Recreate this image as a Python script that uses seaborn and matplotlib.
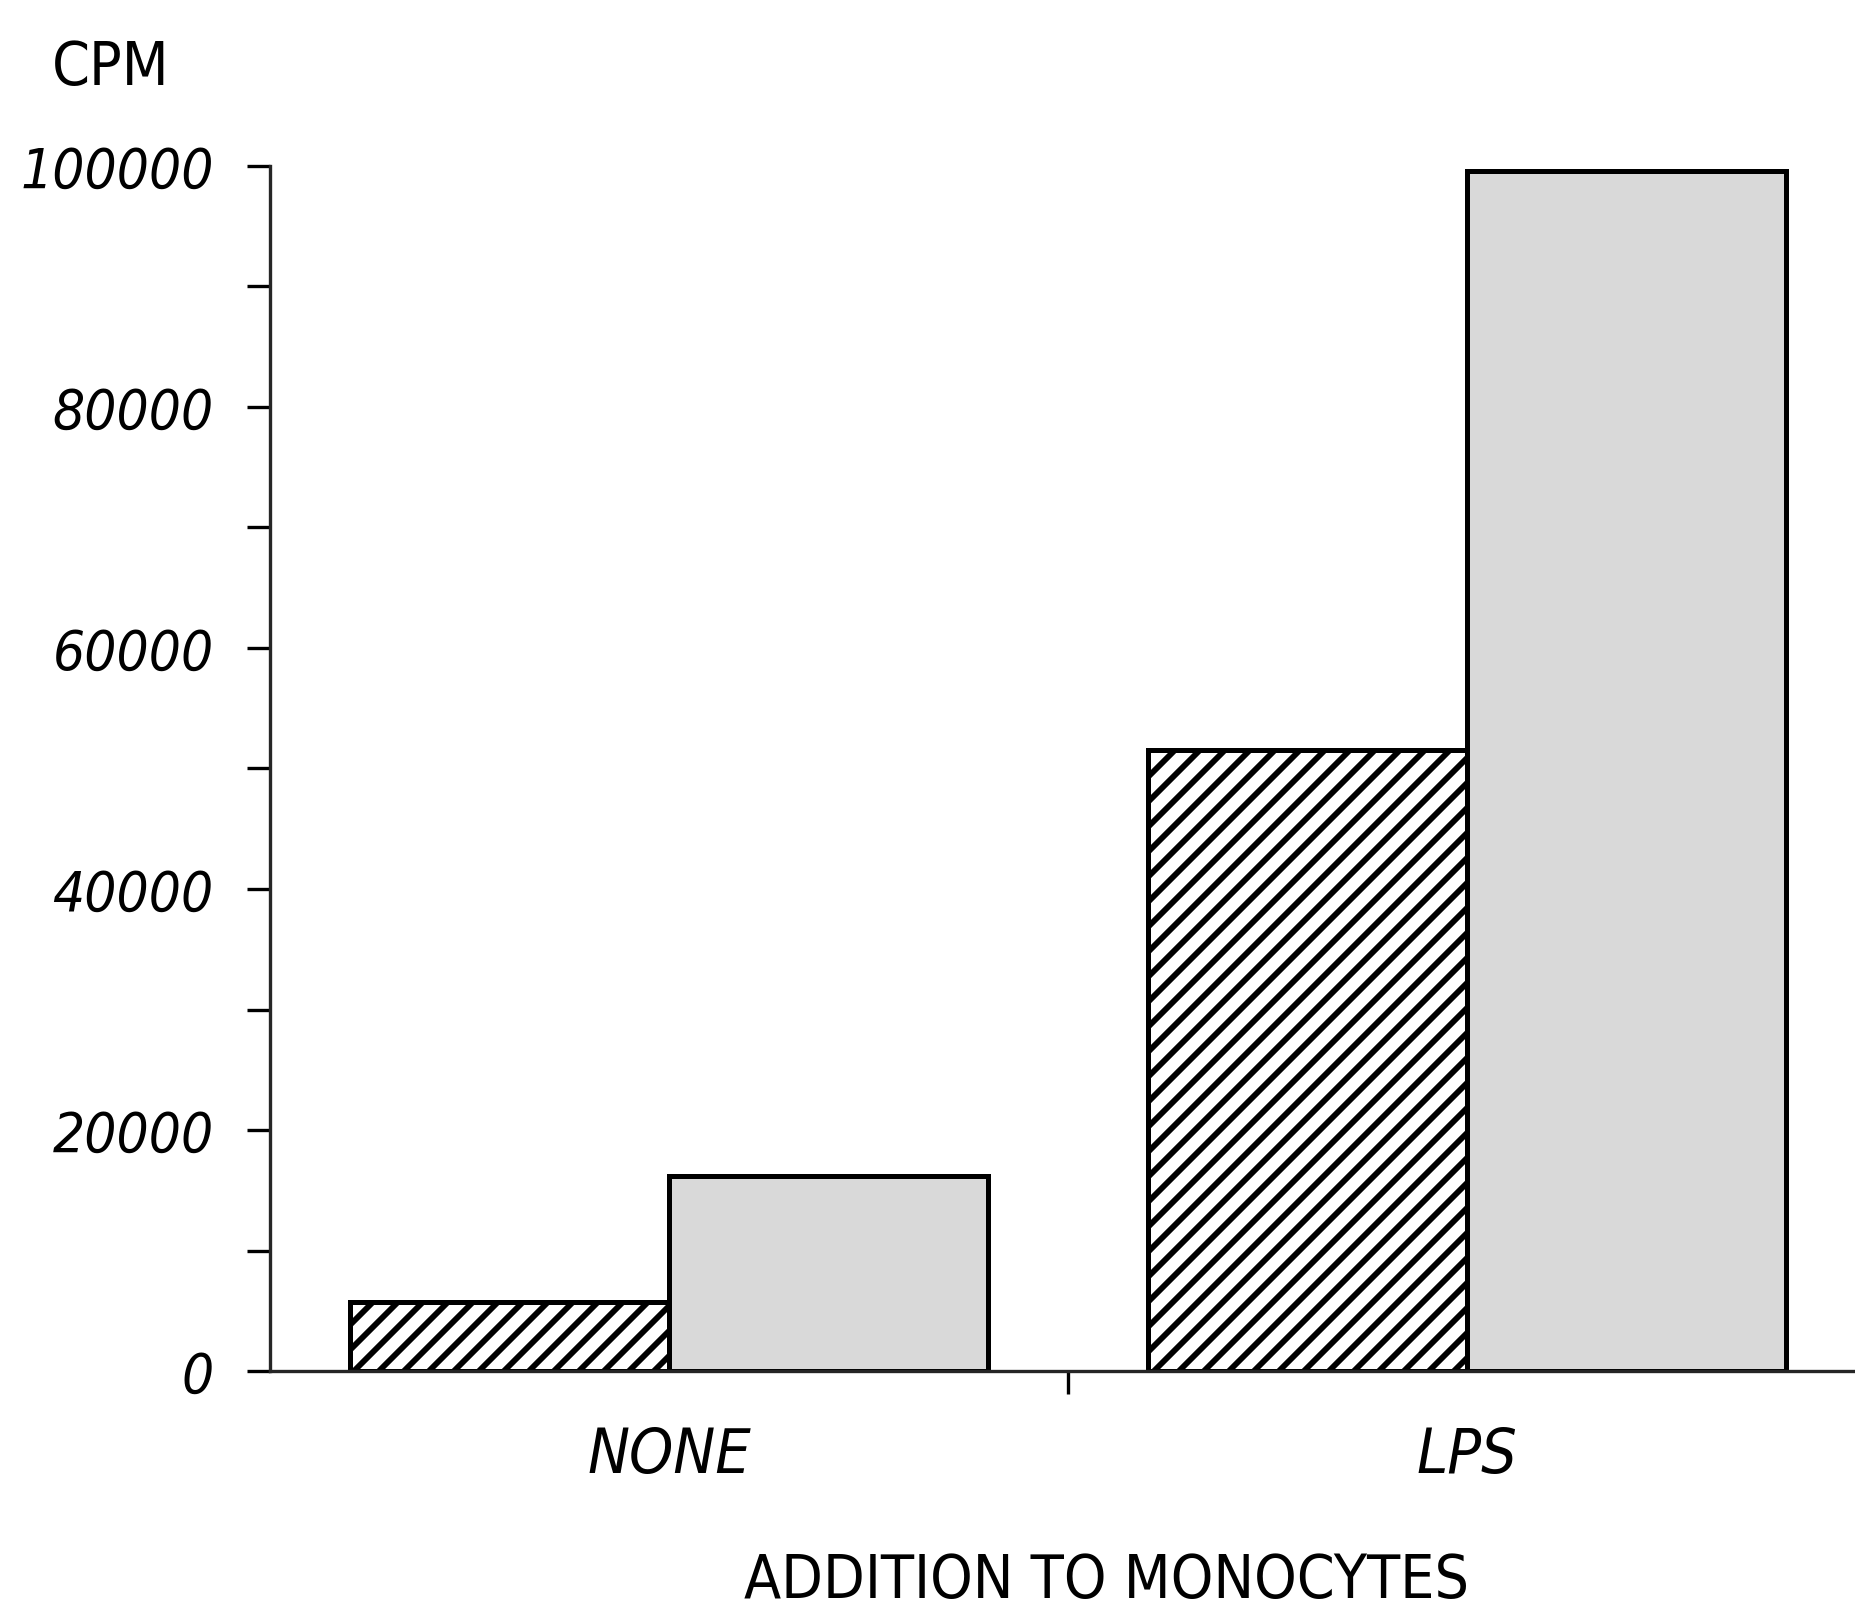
import numpy as np
import matplotlib
matplotlib.use("Agg")
import matplotlib.pyplot as plt
import pandas as pd
import seaborn as sns

# data ==============================================================
additions = ["NONE", "LPS"]
series = ["series 1", "series 2"]
cpm_series1 = [5700, 51500]     # hatched bars
cpm_series2 = [16200, 99600]    # stippled bars

df = pd.DataFrame({
    "addition": additions * 2,
    "group": [series[0]] * 2 + [series[1]] * 2,
    "cpm": cpm_series1 + cpm_series2,
})

# style ==============================================================
sns.set_style("ticks")
plt.rcParams["font.family"] = ["DejaVu Sans"]
plt.rcParams["font.stretch"] = "condensed"
plt.rcParams["text.color"] = "black"
plt.rcParams["xtick.color"] = "black"
plt.rcParams["ytick.color"] = "black"
plt.rcParams["axes.labelcolor"] = "black"
plt.rcParams["hatch.linewidth"] = 2.8
plt.rcParams["hatch.color"] = "black"

W, H, DPI = 1855, 1610, 150
fig = plt.figure(figsize=(W / DPI, H / DPI), dpi=DPI, facecolor="white")
ax = fig.add_axes([270 / W, 1 - 1372 / H, 1 - 270 / W, (1372 - 167) / H])

sns.barplot(data=df, x="addition", y="cpm", hue="group", hue_order=series,
            order=additions, palette=["white", "#d9d9d9"], edgecolor="black",
            linewidth=2.4, errorbar=None, width=0.8, gap=0, legend=False, ax=ax)

# hatch for first series
for bar in ax.containers[0]:
    bar.set_hatch("//")

ax.set_xlim(-0.5, -0.5 + 1585 / 798)
ax.set_ylim(0, 100000)

# y axis ticks
ax.set_yticks(np.arange(0, 100001, 20000))
ax.set_yticks(np.arange(10000, 100000, 20000), minor=True)
ax.set_yticklabels([str(v) for v in range(0, 100001, 20000)], fontsize=27, style="italic")
ax.tick_params(axis="y", which="both", length=11, width=1.6, pad=16, direction="out")

# x axis: labels at categories, a single tick between them
ax.set_xticks([0, 1])
ax.set_xticklabels(additions, fontsize=30, style="italic")
ax.set_xticks([0.5], minor=True)
ax.tick_params(axis="x", which="major", length=0, pad=26)
ax.tick_params(axis="x", which="minor", length=11, width=1.6, direction="out")

ax.set_xlabel("ADDITION TO MONOCYTES", fontsize=29)
ax.xaxis.label.set_va("center")
ax.xaxis.set_label_coords(0.528, -0.174)
ax.set_ylabel("")

sns.despine(ax=ax, top=True, right=True)
for s in ["left", "bottom"]:
    ax.spines[s].set_linewidth(1.6)

fig.text(52 / W, 1 - 69 / H, "CPM", fontsize=29, ha="left", va="center")

fig.savefig("out.png", dpi=DPI, facecolor="white")
